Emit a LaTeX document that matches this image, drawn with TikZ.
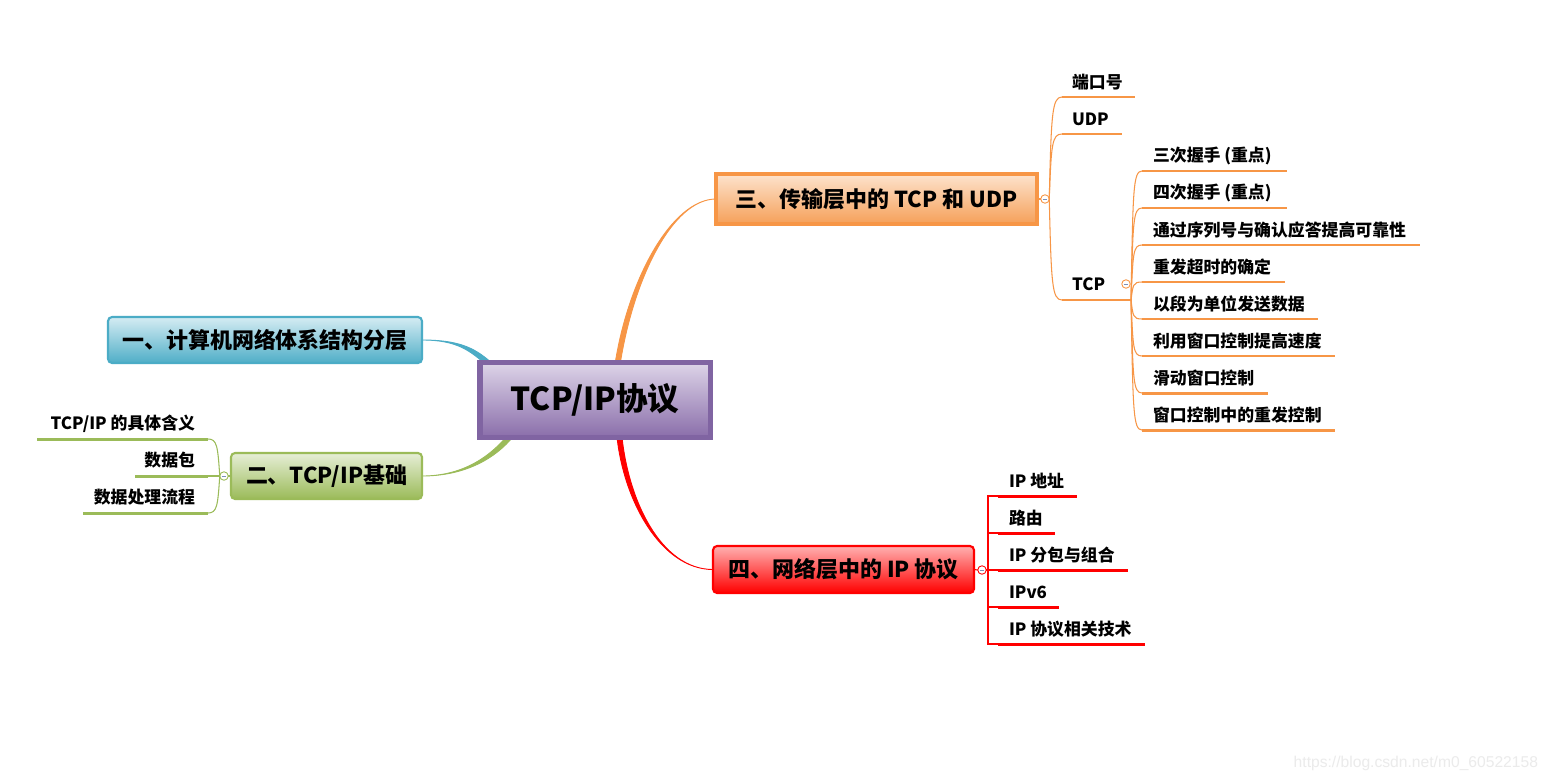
\documentclass[tikz,border=0pt]{standalone}
\usepackage{fontspec}
\setmainfont{Noto Sans CJK SC}
\newfontfamily\wmfont{Liberation Sans}
\usetikzlibrary{calc}
\pgfdeclarelayer{bg}
\pgfsetlayers{bg,main}
\definecolor{cBlue}{HTML}{4BACC6}
\definecolor{cBlueT}{HTML}{D5ECF3}
\definecolor{cBlueB}{HTML}{4FAEC7}
\definecolor{cGreen}{HTML}{9BBB59}
\definecolor{cGreenT}{HTML}{E6EED6}
\definecolor{cGreenB}{HTML}{9BBB59}
\definecolor{cOr}{HTML}{F79646}
\definecolor{cOrT}{HTML}{FDE3CD}
\definecolor{cOrB}{HTML}{F5A059}
\definecolor{cRed}{HTML}{FF0000}
\definecolor{cRedT}{HTML}{FFB0B0}
\definecolor{cRedB}{HTML}{FF0000}
\definecolor{cPu}{HTML}{8064A2}
\definecolor{cPuT}{HTML}{DDD4E8}
\definecolor{cPuB}{HTML}{8A6EAA}
\definecolor{cMinus}{HTML}{7A8FB8}
\definecolor{cWm}{HTML}{EBEBEB}
\newcommand\taperlink[7]{%
  \filldraw[#1, line width=0.5pt, line join=round] (#2) .. controls +(#3) and +(#4) .. ([shift={(#6,#7)}]#5)
    -- ([shift={({-1*(#6)},{-1*(#7)})}]#5) .. controls +(#4) and +(#3) .. (#2) -- cycle;}
\begin{document}
\begin{tikzpicture}[x=0.02cm,y=-0.02cm,
  every node/.style={inner sep=0pt, outer sep=0pt},
  topic/.style={rounded corners=2.3pt, line width=1.2pt, font=\fontsize{12.5}{15}\selectfont\bfseries},
  leaf/.style={font=\fontsize{9.6}{12}\selectfont\bfseries, anchor=west},
  leafL/.style={font=\fontsize{9.6}{12}\selectfont\bfseries, anchor=east},
  uline/.style={line width=1.7pt},
  thinl/.style={line width=0.6pt},
  collapse/.style={circle, draw, fill=white, line width=0.5pt, minimum size=0.17cm,
    path picture={\draw[cMinus, line width=0.5pt] ([xshift=-1.3pt]path picture bounding box.center) -- ([xshift=1.3pt]path picture bounding box.center);}}]
\useasboundingbox (0,0) rectangle (1550,781);

% central and main topics
\node[draw=cPu, line width=3.1pt, top color=cPuT, bottom color=cPuB, minimum width=4.61cm, minimum height=1.49cm,
  font=\fontsize{18}{21}\selectfont\bfseries] (root) at (595,400) {TCP/IP协议};
\node[topic, draw=cBlue, top color=cBlueT, bottom color=cBlueB, minimum width=6.28cm, minimum height=0.92cm] (n1) at (265,340) {一、计算机网络体系结构分层};
\node[topic, draw=cGreen, top color=cGreenT, bottom color=cGreenB, minimum width=3.82cm, minimum height=0.92cm] (n2) at (326.5,476) {二、TCP/IP基础};
\node[topic, rounded corners=0pt, line width=2.3pt, draw=cOr, top color=cOrT, bottom color=cOrB, minimum width=6.42cm, minimum height=1.0cm] (n3) at (876.5,199) {三、传输层中的 TCP 和 UDP};
\node[topic, draw=cRed, top color=cRedT, bottom color=cRedB, minimum width=5.22cm, minimum height=0.94cm] (n4) at (843.5,569.5) {四、网络层中的 IP 协议};

% background and main connectors (tapered)
\begin{pgfonlayer}{bg}
\fill[white] (0,0) rectangle (1550,781);
\coordinate (eB) at ([shift={(9,1)}]root.north west);
\coordinate (eG) at ([shift={(32,-3)}]root.south west);
\coordinate (eO) at ([shift={(22,5)}]root.north);
\coordinate (eR) at ([shift={(24,-5)}]root.south);
\taperlink{cBlue}{n1.east}{35,0}{-17,-15}{eB}{1.65}{-1.9}
\taperlink{cGreen}{n2.east}{40,0}{-20,25}{eG}{1.95}{1.55}
\taperlink{cOr}{n3.west}{-44,0}{13,-88}{eO}{2.5}{0.4}
\taperlink{cRed}{n4.west}{-52,0}{6,68}{eR}{2.5}{0}
\end{pgfonlayer}

% collapse markers
\node[collapse, draw=cOr] (c3) at (1045,199) {};
\node[collapse, draw=cRed] (c4) at (982,570) {};
\node[collapse, draw=cGreen] (c2) at (224,476) {};
\node[collapse, draw=cOr] (cT) at (1126,284) {};

% ---- branch three ----
\coordinate (k1s) at (1062,97);  \coordinate (k1e) at (1135,97);
\coordinate (k2s) at (1062,134); \coordinate (k2e) at (1122,134);
\coordinate (k3s) at (1062,300); \coordinate (k3e) at (1118,300);
\node[leaf] (k1) at (1072,82) {端口号};
\node[leaf] (k2) at (1072,119) {UDP};
\node[leaf] (k3) at (1072,284) {TCP};
\draw[cOr, thinl] (n3.east) -- (c3.west);
\draw[cOr, thinl] (c3.east) .. controls +(2,-85) and +(-10,0) .. (k1s);
\draw[cOr, thinl] (c3.east) .. controls +(2,-55) and +(-10,0) .. (k2s);
\draw[cOr, thinl] (c3.east) .. controls +(2,85) and +(-10,0) .. (k3s);
\draw[cOr, uline] (k1s) -- (k1e);
\draw[cOr, uline] (k2s) -- (k2e);
\draw[cOr, uline] (k3s) -- (k3e);
\coordinate (tp) at (1131,300);
\draw[cOr, thinl] (k3e) -- (tp);
\foreach \yy/\ee/\txt [count=\i] in {171/1287/三次握手 (重点), 208/1287/四次握手 (重点), 245/1420/通过序列号与确认应答提高可靠性, 282/1285/重发超时的确定, 319/1318/以段为单位发送数据, 356/1335/利用窗口控制提高速度, 393/1268/滑动窗口控制, 430/1335/窗口控制中的重发控制}{
  \coordinate (ts\i) at (1142,\yy);
  \coordinate (te\i) at (\ee,\yy);
  \node[leaf] (t\i) at (1153,\yy-15) {\txt};
  \draw[cOr, uline] (ts\i) -- (te\i);
  \pgfmathsetmacro\dy{(\yy-300)*0.85}
  \draw[cOr, thinl] (tp) .. controls +(2,\dy) and +(-9,0) .. (ts\i);
}

% ---- branch four ----
\coordinate (p4) at (988,570);
\draw[cRed, thinl] (n4.east) -- (c4.west);
\draw[cRed, thinl] (c4.east) -- (p4);
\foreach \yy/\ee/\txt [count=\i] in {496/1077/IP 地址, 533/1055/路由, 570/1128/IP 分包与组合, 607/1059/IPv6, 644/1145/IP 协议相关技术}{
  \coordinate (rs\i) at (998,\yy);
  \coordinate (re\i) at (\ee,\yy);
  \node[leaf] (r\i) at (1009,\yy-15) {\txt};
  \draw[cRed, thinl] (p4) |- (rs\i);
  \draw[cRed, uline] (rs\i) -- (re\i);
}

% ---- branch two ----
\coordinate (ls1) at (208,439); \coordinate (le1) at (37,439);
\coordinate (ls2) at (208,476); \coordinate (le2) at (135,476);
\coordinate (ls3) at (208,513); \coordinate (le3) at (83,513);
\node[leafL] (l1) at (195,423.5) {TCP/IP 的具体含义};
\node[leafL] (l2) at (195,460.5) {数据包};
\node[leafL] (l3) at (195,497.5) {数据处理流程};
\draw[cGreen, thinl] (n2.west) -- (c2.east);
\draw[cGreen, thinl] (c2.west) .. controls +(-2,-30) and +(9,0) .. (ls1);
\draw[cGreen, thinl] (c2.west) -- (ls2);
\draw[cGreen, thinl] (c2.west) .. controls +(-2,30) and +(9,0) .. (ls3);
\draw[cGreen, uline] (ls1) -- (le1);
\draw[cGreen, uline] (ls2) -- (le2);
\draw[cGreen, uline] (ls3) -- (le3);

% watermark
\node[font=\wmfont\fontsize{8.9}{10}\selectfont, text=cWm, anchor=east] (wm) at (1538,763) {https://blog.csdn.net/m0\_60522158};
\end{tikzpicture}
\end{document}
